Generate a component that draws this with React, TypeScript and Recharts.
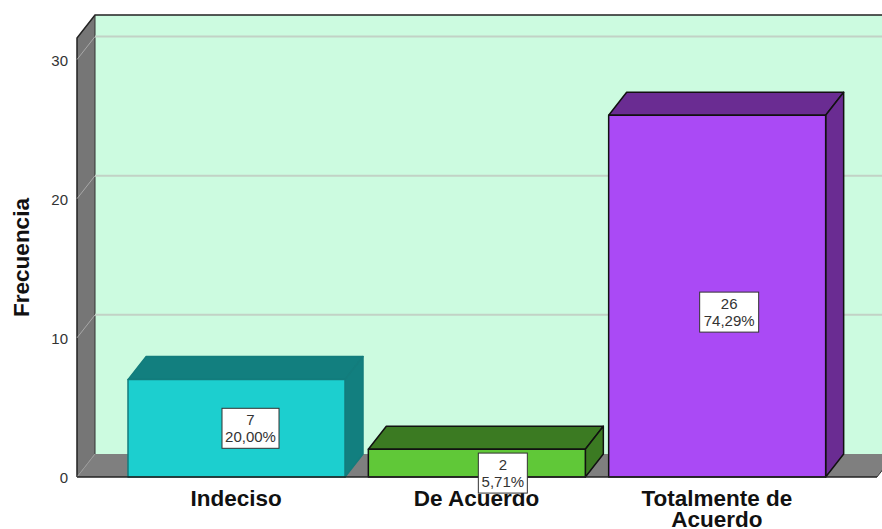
import { BarChart, Bar, XAxis, YAxis, ReferenceArea, ReferenceLine, LabelList } from 'recharts';

const categories = ['Indeciso', 'De Acuerdo', 'Totalmente de Acuerdo'];
const counts = [7, 2, 26];
const percents = ['20,00%', '5,71%', '74,29%'];
const yTicks = [0, 10, 20, 30];
const yTop = 31.55;
const tickLines: Record<string, string[]> = {
  'Totalmente de Acuerdo': ['Totalmente de', 'Acuerdo'],
};

const rows = categories.map((name, i) => ({ name, count: counts[i], percent: percents[i] }));

// 3D look
const DEPTH_X = 18;
const DEPTH_Y = 23;
const PAD_LEFT = 39;
const PAD_RIGHT = 40;
const frontFill = ['#1ccfcf', '#60c838', '#aa4af5'];
const sideFill = ['#127f7f', '#3b7a22', '#6a2c92'];
const edge = ['#137c7c', '#111', '#111'];
// the boxes were moved by hand in the original
const boxNudge = [
  { dx: 14, dy: 0, w: 57 },
  { dx: 26, dy: 10, w: 49 },
  { dx: 12, dy: 16, w: 59 },
];

const font = '"Liberation Sans", Arial, sans-serif';

function Walls(props: any) {
  // the area only spans the padded band range, so widen it back to the full plot
  const x = props.x - PAD_LEFT;
  const right = props.x + props.width + PAD_RIGHT;
  const y = props.y;
  const bottom = y + props.height;
  return (
    <g>
      <polygon points={`${x + DEPTH_X},${y - DEPTH_Y} ${right + DEPTH_X},${y - DEPTH_Y} ${right + DEPTH_X},${bottom - DEPTH_Y} ${x + DEPTH_X},${bottom - DEPTH_Y}`} fill="#ccfbe0" />
      <polygon points={`${x},${y} ${x + DEPTH_X},${y - DEPTH_Y} ${x + DEPTH_X},${bottom - DEPTH_Y} ${x},${bottom}`} fill="#767676" />
      <polygon points={`${x},${bottom} ${x + DEPTH_X},${bottom - DEPTH_Y} ${right + DEPTH_X},${bottom - DEPTH_Y} ${right},${bottom}`} fill="#7f7f7f" />
      <polyline points={`${x},${bottom} ${x},${y} ${x + DEPTH_X},${y - DEPTH_Y} ${right + DEPTH_X},${y - DEPTH_Y}`} fill="none" stroke="#222" strokeWidth={1.5} />
      <line x1={x + DEPTH_X} y1={y - DEPTH_Y} x2={x + DEPTH_X} y2={bottom - DEPTH_Y} stroke="#333" strokeWidth={1} />
      <line x1={x} y1={bottom} x2={x + DEPTH_X} y2={bottom - DEPTH_Y} stroke="#999" strokeWidth={1} />
      <line x1={right} y1={bottom} x2={right + DEPTH_X} y2={bottom - DEPTH_Y} stroke="#333" strokeWidth={1} />
    </g>
  );
}

function WallGrid({ x1, y1, x2 }: any) {
  return (
    <g fill="none">
      <line x1={x1} y1={y1} x2={x1 + DEPTH_X} y2={y1 - DEPTH_Y} stroke="#a8a8a8" strokeWidth={1} />
      <line x1={x1 + DEPTH_X} y1={y1 - DEPTH_Y} x2={x2 + DEPTH_X} y2={y1 - DEPTH_Y} stroke="#c2d2c6" strokeWidth={2} />
    </g>
  );
}

function Box3D({ x, y, width, height, index }: any) {
  const r = x + width;
  const b = y + height;
  const stroke = edge[index];
  return (
    <g stroke={stroke} strokeWidth={1.5} strokeLinejoin="round">
      <polygon points={`${x},${y} ${x + DEPTH_X},${y - DEPTH_Y} ${r + DEPTH_X},${y - DEPTH_Y} ${r},${y}`} fill={sideFill[index]} />
      <polygon points={`${r},${y} ${r + DEPTH_X},${y - DEPTH_Y} ${r + DEPTH_X},${b - DEPTH_Y} ${r},${b}`} fill={sideFill[index]} />
      <rect x={x} y={y} width={width} height={height} fill={frontFill[index]} />
    </g>
  );
}

function ValueBox({ x, y, width, height, index }: any) {
  const n = boxNudge[index];
  const cx = x + width / 2 + n.dx;
  const cy = y + height / 2 + n.dy;
  return (
    <g fontFamily={font} fontSize={15} fill="#333" textAnchor="middle">
      <rect x={cx - n.w / 2} y={cy - 20} width={n.w} height={40} fill="#fff" stroke="#333" strokeWidth={1} />
      <text x={cx} y={cy - 3}>{counts[index]}</text>
      <text x={cx} y={cy + 14}>{percents[index]}</text>
    </g>
  );
}

function CategoryTick({ x, y, payload }: any) {
  const lines = tickLines[payload.value] ?? [payload.value];
  return (
    <text x={x} textAnchor="middle" fontFamily={font} fontSize={22.5} fontWeight="bold" fill="#111">
      {lines.map((line, i) => (
        <tspan key={line} x={x} y={y + 21 + i * 21}>{line}</tspan>
      ))}
    </text>
  );
}

export default function App() {
  return (
    <div style={{ position: 'absolute', left: 0, top: 0, width: 882, height: 529, background: '#fff', overflow: 'hidden' }}>
      <BarChart width={882} height={529} data={rows} margin={{ top: 38, right: 5, bottom: 0, left: 0 }} barSize={217}>
        <XAxis
          dataKey="name"
          padding={{ left: PAD_LEFT, right: PAD_RIGHT }}
          axisLine={{ stroke: '#222', strokeWidth: 1.5 }}
          tickLine={false}
          interval={0}
          height={52}
          tick={<CategoryTick />}
        />
        <YAxis
          domain={[0, yTop]}
          ticks={yTicks}
          width={77}
          axisLine={false}
          tickLine={false}
          tickMargin={3}
          tick={{ fontFamily: font, fontSize: 15, fill: '#333', dy: 1 }}
          label={{ value: 'Frecuencia', angle: -90, position: 'insideLeft', offset: 21, style: { fontFamily: font, fontSize: 22.5, fontWeight: 'bold', fill: '#111', textAnchor: 'middle' } }}
        />
        <ReferenceArea y1={0} y2={yTop} shape={<Walls />} zIndex={-200} />
        {yTicks.slice(1).map((t) => (
          <ReferenceLine key={t} y={t} shape={<WallGrid />} zIndex={-100} />
        ))}
        <Bar dataKey="count" shape={<Box3D />} isAnimationActive={false}>
          <LabelList dataKey="count" content={<ValueBox />} />
        </Bar>
      </BarChart>
    </div>
  );
}
